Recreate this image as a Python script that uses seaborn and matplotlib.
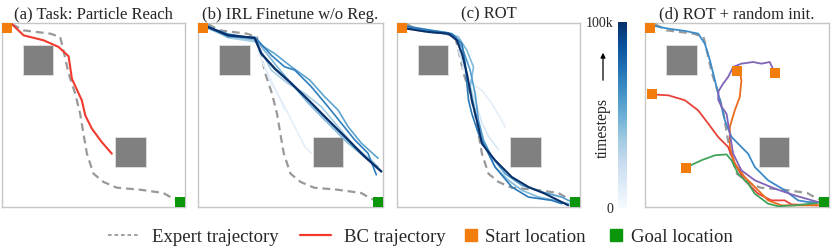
import numpy as np
import pandas as pd
import seaborn as sns
import matplotlib.pyplot as plt
from matplotlib.lines import Line2D
from matplotlib.patches import Rectangle, FancyArrowPatch
from matplotlib import cm, colors

# coordinates in a 0..100 box, y measured from the top
expert_x = [5.5, 11.8, 26.4, 31.8, 33.6, 36.4, 40.0, 42.7, 44.5, 46.4, 50.0, 55.5, 62.7, 75.5, 88.2, 94.5]
expert_y = [0.7, 4.0, 5.8, 7.6, 14.9, 27.5, 38.4, 49.3, 60.1, 71.0, 81.9, 86.4, 89.5, 90.6, 92.4, 96.0]

bc_x = [5.5, 11.8, 22.7, 30.9, 36.4, 38.2, 43.6, 45.5, 49.1, 54.5, 60.0]
bc_y = [0.7, 6.7, 9.4, 13.0, 18.1, 30.3, 42.0, 50.2, 57.4, 64.7, 71.0]

obstacles = [(11.5, 11.8), (62.0, 62.0)]
obstacle_size = 16.5
start_xy = (2.7, 2.7)
goal_xy = (97.3, 97.3)

# (b) IRL finetune without regularisation, timestep (k) of each rollout
irl_steps = [6, 10, 35, 45, 55, 70, 100]
irl_x = [
    [34.2, 41.4, 46.8],
    [32.4, 39.6, 45.0, 52.3, 57.7, 61.3],
    [5.4, 16.2, 31.5, 39.6, 48.6, 57.7, 66.7, 75.7, 84.7, 95.5],
    [5.4, 16.2, 31.5, 41.4, 50.5, 59.5, 70.3, 81.1, 91.9, 97.3],
    [5.4, 16.2, 30.6, 34.2, 41.4, 50.5, 60.4, 68.5, 75.7, 81.1, 88.3, 97.3],
    [5.4, 16.2, 31.5, 39.6, 46.8, 52.3, 61.3, 70.3, 77.5, 84.7, 91.9, 96.4],
    [5.4, 16.2, 30.6, 34.2, 41.4, 50.5, 59.5, 68.5, 75.7, 82.9, 90.1, 99.1],
]
irl_y = [
    [20.2, 34.7, 47.3],
    [14.8, 32.9, 41.9, 56.3, 67.1, 70.8],
    [2.5, 8.0, 10.3, 25.6, 32.9, 38.3, 45.5, 56.3, 67.1, 76.2],
    [3.0, 7.2, 9.4, 22.0, 32.9, 43.5, 54.5, 65.3, 74.4, 78.0],
    [1.4, 7.6, 7.6, 12.1, 16.6, 23.8, 31.0, 40.1, 47.3, 56.3, 65.3, 73.5],
    [2.2, 6.0, 8.5, 17.5, 23.8, 25.6, 34.7, 45.5, 54.5, 63.5, 70.8, 82.5],
    [2.2, 6.7, 8.1, 16.6, 24.7, 32.9, 41.7, 50.9, 58.1, 65.3, 72.6, 80.7],
]

# (c) ROT rollouts
rot_steps = [10, 15, 45, 58, 72, 100]
rot_x = [
    [35.5, 40.9, 46.4, 51.8, 57.3, 59.1],
    [33.6, 38.2, 42.7, 46.4, 50.0, 55.5],
    [5.5, 15.5, 26.4, 33.6, 38.2, 41.8, 40.0, 42.7, 45.5, 48.2, 53.6, 60.9, 68.2, 77.3, 86.4, 97.3],
    [5.5, 17.3, 30.9, 35.5, 40.0, 42.7, 44.5, 47.3, 51.8, 59.1, 68.2, 79.1, 90.0, 97.3],
    [5.5, 19.1, 30.0, 35.5, 37.3, 38.2, 39.1, 40.9, 44.5, 50.0, 53.6, 62.7, 71.8, 84.5, 90.0],
    [5.5, 17.3, 28.2, 32.7, 35.5, 38.2, 40.9, 44.5, 46.4, 53.6, 62.7, 71.8, 80.9, 93.6],
]
rot_y = [
    [23.9, 33.0, 36.6, 43.8, 52.9, 56.5],
    [14.9, 29.3, 41.8, 54.3, 61.6, 68.8],
    [2.2, 4.0, 4.9, 7.6, 14.9, 23.9, 34.8, 47.5, 60.1, 67.4, 78.3, 85.5, 90.9, 94.6, 96.4, 99.1],
    [2.5, 4.3, 6.7, 13.0, 25.7, 38.4, 52.9, 63.8, 72.8, 81.9, 88.2, 91.8, 94.6, 98.2],
    [1.8, 4.0, 5.8, 11.2, 22.1, 33.0, 42.0, 49.3, 60.1, 71.0, 78.3, 89.1, 94.6, 96.4, 98.2],
    [3.1, 4.9, 5.8, 9.4, 16.7, 27.5, 42.0, 56.5, 65.6, 74.6, 83.7, 89.1, 92.8, 99.1],
]

# (d) ROT from random starting points
rand_names = ["blue", "red", "orange", "green", "purple"]
rand_colors = ["#3b8bc9", "#e8423a", "#ec6a1c", "#3fa35a", "#8064b8"]
rand_x = [
    [3.6, 12.7, 21.7, 28.9, 32.5, 35.3, 38.0, 40.7, 43.4, 47.0, 52.4, 56.0, 59.7, 66.9, 75.9, 83.2, 88.6, 94.9],
    [3.6, 12.7, 21.7, 28.9, 34.4, 39.8, 45.2, 48.8, 54.2, 61.5, 68.7, 75.9, 79.6, 94.0],
    [51.5, 52.4, 51.5, 48.8, 46.1, 46.1, 48.8, 54.2, 61.5, 66.9, 74.1, 94.9],
    [22.1, 30.7, 38.0, 44.3, 47.0, 50.6, 56.1, 59.7, 66.9, 72.3, 81.4, 94.0],
    [70.5, 67.8, 63.3, 58.8, 52.4, 47.9, 45.2, 42.5, 39.8, 39.8, 41.6, 44.3, 46.1, 47.9, 52.4, 59.7, 70.5, 81.4, 94.0],
]
rand_y = [
    [1.3, 3.1, 4.3, 5.8, 11.2, 20.3, 31.2, 42.0, 52.9, 61.9, 67.4, 71.0, 78.3, 85.5, 90.9, 96.4, 97.3, 97.3],
    [38.8, 39.3, 42.0, 47.5, 54.7, 62.0, 67.4, 76.4, 85.5, 92.8, 96.4, 96.4, 98.6, 99.1],
    [26.6, 31.2, 40.2, 47.5, 56.5, 67.4, 76.4, 83.7, 90.9, 96.4, 99.1, 99.1],
    [78.6, 74.6, 71.9, 71.4, 74.6, 81.9, 87.3, 92.8, 98.2, 99.6, 99.1, 97.8],
    [27.0, 21.2, 22.1, 21.2, 22.1, 23.9, 29.3, 32.9, 37.3, 41.8, 45.5, 49.3, 60.1, 71.0, 80.1, 85.5, 90.0, 93.7, 97.3],
]
rand_start_x = [2.7, 3.6, 50.1, 70.5, 22.1]
rand_start_y = [2.5, 38.4, 26.3, 27.0, 78.6]

titles = ["(a) Task: Particle Reach", "(b) IRL Finetune w/o Reg.", "(c) ROT", "(d) ROT + random init."]

sns.set_theme(style="white")
plt.rcParams['font.family'] = ['Liberation Serif', 'DejaVu Serif']

START_C = "#f27d0c"
GOAL_C = "#0c960c"
EXPERT_C = "#999999"
BC_C = "#f03a2e"

fig = plt.figure(figsize=(8.31, 2.49), dpi=100)
W, H = 831, 249
def px_axes(l, t, r, b):
    return fig.add_axes([l / W, 1 - b / H, (r - l) / W, (b - t) / H])

axes = [px_axes(2, 23, 185, 207), px_axes(198, 23, 383, 207),
        px_axes(397, 23, 580, 207), px_axes(645, 23, 829, 207)]
cax = px_axes(618, 22, 627, 208)

cmap = plt.get_cmap("Blues")
norm = colors.Normalize(vmin=0, vmax=100)

def base(ax, title):
    ax.set_xlim(0, 100)
    ax.set_ylim(100, 0)
    ax.set_xticks([])
    ax.set_yticks([])
    for s in ax.spines.values():
        s.set_color("#c6c6c6")
        s.set_linewidth(1.0)
    for ox, oy in obstacles:
        ax.add_patch(Rectangle((ox, oy), obstacle_size, obstacle_size,
                               facecolor="#808080", edgecolor="#e0e0e0", lw=0.6, zorder=1))
    ax.set_title(title, fontsize=12, pad=3)

def expert(ax):
    sns.lineplot(x=expert_x, y=expert_y, sort=False, estimator=None, ax=ax,
                 color=EXPERT_C, lw=1.6, zorder=4).lines[-1].set_dashes([3.5, 2.2])

def markers(ax, sx, sy):
    ax.scatter(sx, sy, marker="s", s=52, color=START_C, zorder=6, clip_on=False, linewidths=0)
    ax.scatter([goal_xy[0]], [goal_xy[1]], marker="s", s=52, color=GOAL_C, zorder=6,
               clip_on=False, linewidths=0)

# (a)
ax = axes[0]
base(ax, titles[0])
expert(ax)
sns.lineplot(x=bc_x, y=bc_y, sort=False, estimator=None, ax=ax, color=BC_C, lw=1.5, zorder=5)
markers(ax, [start_xy[0]], [start_xy[1]])

# (b)
ax = axes[1]
base(ax, titles[1])
expert(ax)
for xs, ys, st in zip(irl_x, irl_y, irl_steps):
    sns.lineplot(x=xs, y=ys, sort=False, estimator=None, ax=ax,
                 color=cmap(norm(st)), lw=1.2 if st < 100 else 1.7, zorder=5)
markers(ax, [start_xy[0]], [start_xy[1]])

# (c)
ax = axes[2]
base(ax, titles[2])
expert(ax)
for xs, ys, st in zip(rot_x, rot_y, rot_steps):
    sns.lineplot(x=xs, y=ys, sort=False, estimator=None, ax=ax,
                 color=cmap(norm(st)), lw=1.2 if st < 100 else 1.5, zorder=5)
markers(ax, [start_xy[0]], [start_xy[1]])

# (d)
ax = axes[3]
base(ax, titles[3])
expert(ax)
for xs, ys, c in zip(rand_x, rand_y, rand_colors):
    sns.lineplot(x=xs, y=ys, sort=False, estimator=None, ax=ax, color=c, lw=1.3, zorder=5)
markers(ax, rand_start_x, rand_start_y)

# colorbar
cb = fig.colorbar(cm.ScalarMappable(norm=norm, cmap="Blues"), cax=cax)
cb.outline.set_visible(False)
cb.set_ticks([0, 100])
cb.set_ticklabels(["0", "100k"])
cax.yaxis.set_ticks_position("left")
cax.tick_params(length=0, labelsize=10, pad=3)
fig.text(603 / W, 1 - 128 / H, "timesteps", rotation=90, ha="center", va="center", fontsize=11.5)
fig.patches.append(FancyArrowPatch(
    (603 / W, 1 - 83 / H), (603 / W, 1 - 50 / H), transform=fig.transFigure,
    arrowstyle="-|>", mutation_scale=7, lw=0.9, color="black"))

line_handles = [
    Line2D([], [], color=EXPERT_C, lw=1.3, ls=(0, (2, 1.6))),
    Line2D([], [], color=BC_C, lw=1.6),
]
marker_handles = [
    Line2D([], [], marker="s", color=START_C, ls="none", markersize=8),
    Line2D([], [], marker="s", color=GOAL_C, ls="none", markersize=8),
]
leg1 = fig.legend(line_handles, ["Expert trajectory", "BC trajectory"],
                  loc="center left", bbox_to_anchor=(108 / W, 1 - 237 / H), ncol=2, frameon=False,
                  fontsize=13.5, handlelength=1.65, columnspacing=1.12, handletextpad=0.7,
                  borderpad=0, borderaxespad=0)
leg2 = fig.legend(marker_handles, ["Start location", "Goal location"],
                  loc="center left", bbox_to_anchor=(465 / W, 1 - 237 / H), ncol=2, frameon=False,
                  fontsize=13.5, handlelength=0.6, columnspacing=1.33, handletextpad=0.48,
                  borderpad=0, borderaxespad=0)

fig.savefig("out.png", dpi=100)
